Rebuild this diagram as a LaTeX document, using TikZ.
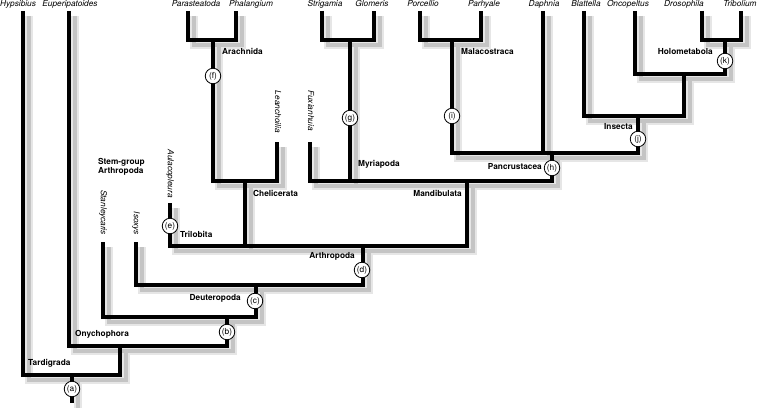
\documentclass[tikz,border=0pt]{standalone}
\usepackage{fontspec}
\setmainfont{TeX Gyre Heros}
\usetikzlibrary{positioning, calc}
\definecolor{shadowlt}{HTML}{E6E6E6}
\definecolor{shadowdk}{HTML}{C4C4C4}

% all branches of the tree, drawn once for the shadow and once in black
\newcommand\cladetree{%
  \path[branch] (par) |- (arachnida) -| (pha);
  \path[branch] (str) |- (myriapoda) -| (glo);
  \path[branch] (por) |- (malacostraca) -| (phy);
  \path[branch] (dro) |- (holometabola) -| (tri);
  \path[branch] (onc) |- (holoonc) -| (holometabola);
  \path[branch] (bla) |- (insecta) -| (holoonc);
  \path[branch] (malacostraca) |- (pancrustacea) -| (insecta);
  \path[branch] (dap) -- (dap |- pancrustacea);
  \path[branch] (arachnida) |- (chelicerata) -| (lea);
  \path[branch] (fux) |- (mandibulata) -| (pancrustacea);
  \path[branch] (myriapoda) -- (myriapoda |- mandibulata);
  \path[branch] (aul) |- (arthropoda) -| (mandibulata);
  \path[branch] (chelicerata) -- (chelicerata |- arthropoda);
  \path[branch] (iso) |- (deuteropoda) -| (arthropoda);
  \path[branch] (sta) |- (cladeb) -| (deuteropoda);
  \path[branch] (eup) |- (onychophora) -| (cladeb);
  \path[branch] (hyp) |- (tardigrada) -| (onychophora);
  \path[branch] (tardigrada) -- (root);
}

\begin{document}
\begin{tikzpicture}[
  x=1pt, y=-1pt,
  branch/.style={draw=black, line width=4.3pt},
  taxon/.style={font=\fontsize{8.3}{10}\selectfont\itshape, inner sep=0pt, anchor=base},
  fossil/.style={font=\fontsize{8.3}{10}\selectfont\itshape, inner sep=0pt, rotate=-90, anchor=east},
  clade/.style={font=\fontsize{8.3}{10}\selectfont\bfseries, inner sep=0pt},
  apom/.style={circle, draw=black, line width=0.8pt, fill=white, minimum size=15.5pt,
    inner sep=0pt, font=\fontsize{8.3}{10}\selectfont},
]
\useasboundingbox (0,0) rectangle (757,409);

% Tips
\coordinate (hyp) at (23,11);
\coordinate (eup) at (69,11);
\coordinate (par) at (188,11);
\coordinate (pha) at (236,11);
\coordinate (str) at (322,11);
\coordinate (glo) at (374,11);
\coordinate (por) at (420,11);
\coordinate (phy) at (481,11);
\coordinate (dap) at (543,11);
\coordinate (bla) at (584,11);
\coordinate (onc) at (635,11);
\coordinate (dro) at (702,11);
\coordinate (tri) at (741,11);
% fossil tips
\coordinate (sta) at (103,242);
\coordinate (iso) at (136,242);
\coordinate (aul) at (170,203);
\coordinate (lea) at (277,142);
\coordinate (fux) at (310,142);

% Clade junctions
\coordinate (arachnida) at (213,40);
\coordinate (myriapoda) at (350,40);
\coordinate (malacostraca) at (452,40);
\coordinate (holometabola) at (725,40);
\coordinate (holoonc) at (684,74);
\coordinate (insecta) at (638,116);
\coordinate (pancrustacea) at (552,153);
\coordinate (chelicerata) at (245,181);
\coordinate (mandibulata) at (467,181);
\coordinate (arthropoda) at (363,246);
\coordinate (deuteropoda) at (256,285);
\coordinate (cladeb) at (227,317);
\coordinate (onychophora) at (120,346);
\coordinate (tardigrada) at (72,375);
\coordinate (root) at (72,403);

% Shadow
\begin{scope}[transform canvas={shift={(6,5)}}, branch/.style={draw=shadowlt, line width=8pt}]
  \cladetree
\end{scope}
\begin{scope}[transform canvas={shift={(6,5)}}, branch/.style={draw=shadowdk, line width=4pt}]
  \cladetree
\end{scope}

% Tree
\cladetree

% Taxon names
\node[taxon] (hyp-l) at (18,7) {Hypsibius};
\node[taxon] (eup-l) at (70,7) {Euperipatoides};
\node[taxon] (par-l) at (196,7) {Parasteatoda};
\node[taxon] (pha-l) at (251,7) {Phalangium};
\node[taxon] (str-l) at (325,7) {Strigamia};
\node[taxon] (glo-l) at (372,7) {Glomeris};
\node[taxon] (por-l) at (423,7) {Porcellio};
\node[taxon] (phy-l) at (484,7) {Parhyale};
\node[taxon] (dap-l) at (544,7) {Daphnia};
\node[taxon] (bla-l) at (586,7) {Blattella};
\node[taxon] (onc-l) at (628,7) {Oncopeltus};
\node[taxon] (dro-l) at (684,7) {Drosophila};
\node[taxon] (tri-l) at (740,7) {Tribolium};

% Fossil names
\node[fossil] (sta-l) at (103,235) {Stanleycaris};
\node[fossil] (iso-l) at (136,235) {Isoxys};
\node[fossil] (aul-l) at (170,198) {Aulacopleura};
\node[fossil] (lea-l) at (278,133) {Leanchoilia};
\node[fossil] (fux-l) at (311,131) {Fuxianhuia};

% Clade names
\node[clade, anchor=base west] (tard-l) at (28,365) {Tardigrada};
\node[clade, anchor=base west] (onych-l) at (75,336) {Onychophora};
\node[clade, anchor=base east] (deut-l) at (241,300) {Deuteropoda};
\node[clade, anchor=base east] (arth-l) at (355,258) {Arthropoda};
\node[clade, anchor=base west] (tril-l) at (180,237) {Trilobita};
\node[clade, anchor=north west, align=left, font=\fontsize{8.3}{9.5}\selectfont\bfseries]
  (stem-l) at (98,158) {Stem-group\\Arthropoda};
\node[clade, anchor=base west] (chel-l) at (253,196) {Chelicerata};
\node[clade, anchor=base west] (arach-l) at (222,55) {Arachnida};
\node[clade, anchor=base west] (myr-l) at (358,166) {Myriapoda};
\node[clade, anchor=base east] (mand-l) at (462,196) {Mandibulata};
\node[clade, anchor=base west] (mal-l) at (461,55) {Malacostraca};
\node[clade, anchor=base east] (panc-l) at (542,169) {Pancrustacea};
\node[clade, anchor=base east] (ins-l) at (633,129) {Insecta};
\node[clade, anchor=base east] (holo-l) at (713,55) {Holometabola};

% Apomorphy markers
\node[apom] (a) at (72,389) {(a)};
\node[apom] (b) at (227,332) {(b)};
\node[apom] (c) at (255,301) {(c)};
\node[apom] (d) at (362,270) {(d)};
\node[apom] (e) at (170,226) {(e)};
\node[apom] (f) at (213,76) {(f)};
\node[apom] (g) at (350,118) {(g)};
\node[apom] (h) at (552,168) {(h)};
\node[apom] (i) at (452,116) {(i)};
\node[apom] (j) at (638,139) {(j)};
\node[apom] (k) at (725,61) {(k)};

\end{tikzpicture}
\end{document}
